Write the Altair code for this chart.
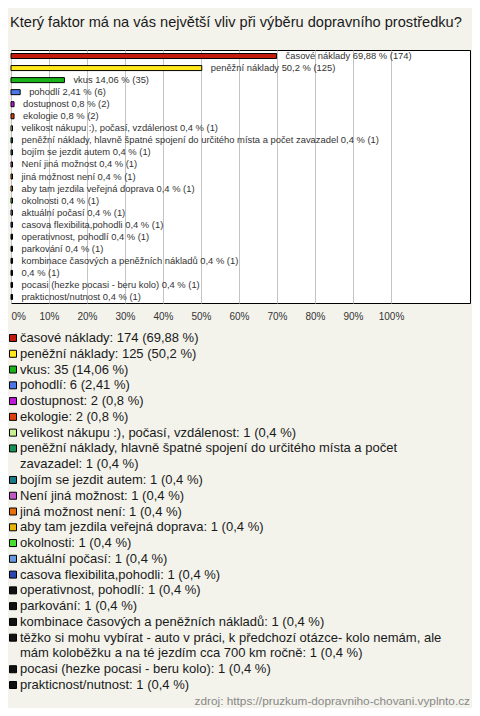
import textwrap
import altair as alt
import pandas as pd

title_text = "Který faktor má na vás největší vliv při výběru dopravního prostředku?"
source_text = "zdroj: https://pruzkum-dopravniho-chovani.vyplnto.cz"

names = [
    "časové náklady",
    "peněžní náklady",
    "vkus",
    "pohodlí",
    "dostupnost",
    "ekologie",
    "velikost nákupu :), počasí, vzdálenost",
    "peněžní náklady, hlavně špatné spojení do určitého místa a počet zavazadel",
    "bojím se jezdit autem",
    "Není jiná možnost",
    "jiná možnost není",
    "aby tam jezdila veřejná doprava",
    "okolnosti",
    "aktuální počasí",
    "casova flexibilita,pohodli",
    "operativnost, pohodlí",
    "parkování",
    "kombinace časových a peněžních nákladů",
    "těžko si mohu vybírat - auto v práci, k předchozí otázce- kolo nemám, ale mám koloběžku a na té jezdím cca 700 km ročně",
    "pocasi (hezke pocasi - beru kolo)",
    "prakticnost/nutnost",
]
counts = [174, 125, 35, 6, 2, 2, 1, 1, 1, 1, 1, 1, 1, 1, 1, 1, 1, 1, 1, 1, 1]
percents = [69.88, 50.2, 14.06, 2.41, 0.8, 0.8, 0.4, 0.4, 0.4, 0.4, 0.4,
            0.4, 0.4, 0.4, 0.4, 0.4, 0.4, 0.4, 0.4, 0.4, 0.4]
colors = [
    "#c41a0c", "#ffe81a", "#1ab41a", "#4a78e8", "#c018d8", "#e0400e",
    "#c8f090", "#189058", "#1a7888", "#c058c8", "#e8700a", "#e8b40a",
    "#48e030", "#6898e0", "#2848b0", "#111111", "#111111", "#111111",
    "#111111", "#111111", "#111111",
]
tick_values = [0.0, 0.1, 0.2, 0.3, 0.4, 0.5, 0.6, 0.7, 0.8, 0.9, 1.0]


def fmt(p):
    return f"{p:g}".replace(".", ",")


# bar data
bar_rows = []
for n, c, p in zip(names, counts, percents):
    shown = n if len(n) <= 100 else ""
    label = " ".join(s for s in [shown, f"{fmt(p)} % ({c})"] if s)
    bar_rows.append({"name": n, "value": p / 100.0, "label": label})
bars_df = pd.DataFrame(bar_rows)

# legend data
sw_rows, line_rows = [], []
line = 0
for n, c, p in zip(names, counts, percents):
    full = f"{n}: {c} ({fmt(p)} %)"
    parts = textwrap.wrap(full, width=73, break_on_hyphens=False)
    sw_rows.append({"name": n, "line": line})
    for part in parts:
        line_rows.append({"line": line, "text": part})
        line += 1
n_lines = line
sw_df = pd.DataFrame(sw_rows)
lines_df = pd.DataFrame(line_rows)

FONT = "Liberation Sans"
W, H = 459, 253

color = alt.Color("name:N", scale=alt.Scale(domain=names, range=colors), legend=None)
ybar = alt.Y("name:N", sort=names, axis=None, scale=alt.Scale(domain=names))

bars = alt.Chart(bars_df).mark_bar(size=5, stroke="black", strokeWidth=1).encode(
    x=alt.X("value:Q",
            scale=alt.Scale(domain=[0, W / 380.0], nice=False, zero=True),
            axis=alt.Axis(values=tick_values, format="%", grid=True,
                          gridColor="#c4c4c4", gridWidth=1, ticks=False,
                          domain=False, labelFontSize=10, labelFont=FONT,
                          labelColor="#333333", labelPadding=8,
                          labelFlush=True, title=None)),
    y=ybar,
    color=color,
)

labels = alt.Chart(bars_df).mark_text(
    align="left", baseline="middle", dx=9, fontSize=9.4, font=FONT,
    color="#333333"
).encode(
    x=alt.X("value:Q"),
    y=ybar,
    text="label:N",
)

yleg = alt.Y("line:Q", axis=None,
             scale=alt.Scale(domain=[0, n_lines - 1], range=[288, 635],
                             nice=False, zero=False))

swatches = alt.Chart(sw_df).mark_square(
    size=49, stroke="black", strokeWidth=1, opacity=1
).encode(
    x=alt.value(2),
    y=yleg,
    color=color,
)

leg_text = alt.Chart(lines_df).mark_text(
    align="left", baseline="middle", fontSize=13, font=FONT, color="#1a1a1a"
).encode(
    x=alt.value(9),
    y=yleg,
    text="text:N",
)

source = alt.Chart(pd.DataFrame({"t": [source_text]})).mark_text(
    align="right", baseline="middle", fontSize=11.8, font=FONT, color="#888888"
).encode(
    x=alt.value(459),
    y=alt.value(651),
    text="t:N",
)

chart = alt.layer(bars, labels, swatches, leg_text, source).resolve_scale(
    y="independent"
).properties(
    width=W,
    height=H,
    autosize=alt.AutoSizeParams(type="none"),
    padding={"left": 3, "top": 42, "right": 2, "bottom": 405},
    title=alt.TitleParams(title_text, anchor="start", frame="group",
                          fontSize=14.6, font=FONT, fontWeight="normal",
                          color="#1a1a1a", offset=20, dx=-1),
).configure(
    background="#f3f3ec"
).configure_view(
    fill="white", stroke="black", strokeWidth=1
)

chart.save("out.html", embed_options={"renderer": "svg", "actions": False})
